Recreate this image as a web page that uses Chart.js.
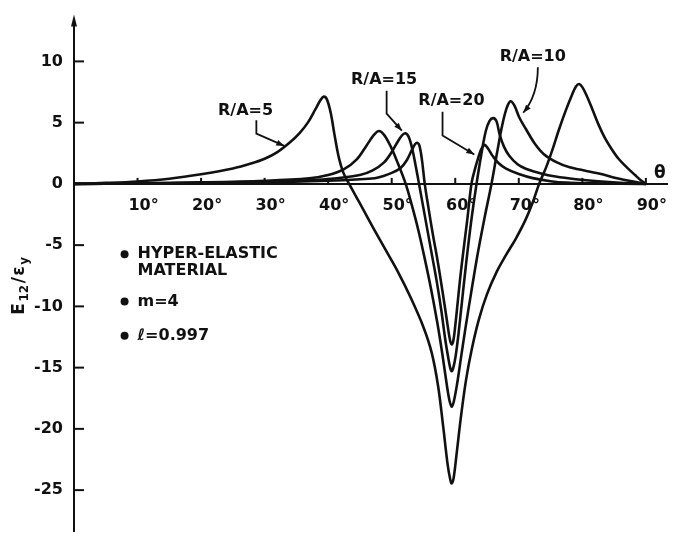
<!DOCTYPE html>
<html>
<head>
<meta charset="utf-8">
<script src="https://cdn.jsdelivr.net/npm/chart.js@4.4.0/dist/chart.umd.min.js"></script>
<style>
  html, body { margin: 0; padding: 0; background: #fff; overflow: hidden; }
  canvas { display: block; }
</style>
</head>
<body>
<canvas id="chart" width="673" height="552"></canvas>
<script>
// shear strain ratio E12/ey against angle theta (degrees)
const ra5Deg = [0, 5, 10, 15, 20, 25, 28, 30, 32, 34, 35.5, 36.8, 38, 38.8, 39.3, 39.8, 40.4, 41, 41.7, 42.4, 43.3, 45, 47, 49, 51, 53, 55, 56.3, 57.3, 58.1, 58.8, 59.2, 59.45, 59.75, 60.2, 60.9, 61.7, 62.6, 63.7, 65, 66.5, 68, 69.5, 71, 72.2, 73.2, 74.3, 75.3, 76.3, 77.4, 78.4, 79.0, 79.5, 80.0, 80.6, 81.5, 82.5, 83.5, 84.6, 85.7, 87, 88.3, 89.2, 90];
const ra5Val = [0, 0.08, 0.2, 0.42, 0.78, 1.25, 1.68, 2.05, 2.6, 3.4, 4.15, 5.0, 6.1, 6.85, 7.12, 6.9, 5.8, 4.0, 2.1, 0.9, 0, -1.6, -3.5, -5.35, -7.2, -9.3, -11.7, -13.8, -16.5, -19.8, -22.9, -24.1, -24.45, -24.0, -22.1, -19.0, -16.0, -13.5, -11.1, -9.0, -7.2, -5.8, -4.5, -3.0, -1.5, 0, 1.35, 2.8, 4.4, 6.0, 7.3, 7.95, 8.15, 7.9, 7.3, 6.2, 4.9, 3.8, 2.85, 2.05, 1.35, 0.72, 0.3, 0];

const ra10Deg = [0, 10, 20, 30, 37, 40, 42.5, 44.5, 46, 47.2, 48, 48.8, 49.8, 50.8, 52.2, 53.2, 54.2, 55.2, 56.2, 57.2, 58.0, 58.7, 59.1, 59.45, 59.8, 60.3, 60.9, 61.6, 62.5, 63.5, 64.6, 65.7, 66.6, 67.4, 68.1, 68.7, 69.3, 70.1, 71.1, 72.5, 74, 76, 78, 82.6, 86, 90];
const ra10Val = [0, 0.05, 0.12, 0.25, 0.45, 0.72, 1.2, 2.0, 3.1, 4.0, 4.32, 4.0, 3.1, 1.9, 0, -1.8, -3.8, -6.1, -8.6, -11.4, -14.0, -16.5, -17.7, -18.2, -17.7, -16.3, -14.2, -11.8, -8.9, -5.8, -2.8, 0, 2.6, 4.8, 6.2, 6.75, 6.4, 5.4, 4.5, 3.3, 2.4, 1.75, 1.35, 0.85, 0.4, 0];

const ra15Deg = [0, 10, 20, 30, 40, 45, 47, 48.8, 50, 50.9, 51.6, 52.15, 52.7, 53.3, 53.8, 54.3, 55, 55.7, 56.4, 57.1, 57.8, 58.4, 58.9, 59.2, 59.45, 59.7, 60.05, 60.5, 61.0, 61.5, 62.0, 62.6, 63.35, 64.1, 64.8, 65.4, 66.0, 66.5, 67.0, 67.7, 68.5, 69.8, 71.1, 73.5, 75.8, 79, 82.5, 86, 90];
const ra15Val = [0, 0.03, 0.08, 0.17, 0.4, 0.72, 1.1, 1.76, 2.6, 3.4, 3.95, 4.13, 3.8, 2.7, 1.4, 0, -2.0, -4.0, -6.0, -8.0, -10.3, -12.6, -14.2, -15.0, -15.3, -15.0, -14.1, -12.3, -9.9, -7.5, -5.2, -2.7, 0, 2.4, 4.3, 5.15, 5.37, 5.1, 4.0, 3.0, 2.3, 1.6, 1.24, 0.85, 0.6, 0.38, 0.21, 0.09, 0];

const ra20Deg = [0, 10, 20, 30, 40, 45, 47.7, 50, 51.4, 52.4, 53.2, 53.7, 54.0, 54.35, 54.75, 55.2, 55.8, 56.5, 57.1, 57.7, 58.3, 58.9, 59.2, 59.45, 59.7, 60.0, 60.4, 60.8, 61.3, 61.9, 62.55, 63.1, 63.6, 64.1, 64.6, 65.0, 65.5, 65.9, 66.8, 68.0, 70, 72.2, 75, 77.4, 82, 90];
const ra20Val = [0, 0.02, 0.05, 0.1, 0.25, 0.38, 0.5, 0.9, 1.3, 1.95, 2.8, 3.25, 3.36, 3.15, 2.0, 0, -2.0, -4.2, -5.9, -7.8, -9.8, -11.9, -12.8, -13.1, -12.8, -11.6, -9.6, -7.6, -5.4, -2.9, 0, 1.2, 2.1, 2.85, 3.18, 3.0, 2.6, 2.27, 1.7, 1.24, 0.8, 0.47, 0.22, 0.1, 0.04, 0];

const xTicks = [0, 10, 20, 30, 40, 50, 60, 70, 80, 90];
const yTicks = [-25, -20, -15, -10, -5, 0, 5, 10];
const seriesNames = ['R/A=5', 'R/A=10', 'R/A=15', 'R/A=20'];
const notes = ['HYPER-ELASTIC', 'MATERIAL', 'm=4', 'ℓ=0.997'];

const black = '#111';
const fam = '"DejaVu Sans", sans-serif';

// where the curve names and their leader lines sit, in axis units
const callouts = [
  { text: 'R/A=5', at: [27.0, 5.97], path: [[28.7, 5.19], [28.7, 4.11], [33.1, 3.1]] },
  { text: 'R/A=15', at: [48.8, 8.53], path: [[49.2, 7.6], [49.2, 5.74], [51.6, 4.34]] },
  { text: 'R/A=20', at: [59.4, 6.74], path: [[58.0, 5.89], [58.0, 3.95], [63.0, 2.4]] },
  { text: 'R/A=10', at: [72.2, 10.39], path: [[73.0, 9.53], [73.0, 8.06], [70.7, 5.81]], bend: true }
];

function toPoints(xs, ys) {
  return xs.map((d, i) => ({ x: d, y: ys[i] }));
}

function arrowHead(ctx, x0, y0, x1, y1) {
  const a = Math.atan2(y1 - y0, x1 - x0);
  ctx.beginPath();
  ctx.moveTo(x1, y1);
  ctx.lineTo(x1 - 8 * Math.cos(a) + 3 * Math.sin(a), y1 - 8 * Math.sin(a) - 3 * Math.cos(a));
  ctx.lineTo(x1 - 8 * Math.cos(a) - 3 * Math.sin(a), y1 - 8 * Math.sin(a) + 3 * Math.cos(a));
  ctx.closePath();
  ctx.fill();
}

const overlay = {
  id: 'overlay',
  afterDraw(chart) {
    const { ctx, chartArea } = chart;
    const sx = chart.scales.x, sy = chart.scales.y;
    const px = v => sx.getPixelForValue(v);
    const py = v => sy.getPixelForValue(v);
    ctx.save();
    ctx.strokeStyle = black;
    ctx.fillStyle = black;
    ctx.lineWidth = 2;

    // small ticks standing on the theta axis
    xTicks.forEach(v => {
      if (!v) return;
      ctx.beginPath();
      ctx.moveTo(px(v), py(0));
      ctx.lineTo(px(v), py(0) - 6);
      ctx.stroke();
    });
    // ticks pointing inwards from the vertical axis
    yTicks.forEach(v => {
      if (!v) return;
      ctx.beginPath();
      ctx.moveTo(chartArea.left, py(v));
      ctx.lineTo(chartArea.left + 10, py(v));
      ctx.stroke();
    });
    // arrow at the top of the vertical axis
    ctx.beginPath();
    ctx.moveTo(chartArea.left, chartArea.top - 6);
    ctx.lineTo(chartArea.left - 3, chartArea.top + 6);
    ctx.lineTo(chartArea.left + 3, chartArea.top + 6);
    ctx.closePath();
    ctx.fill();

    // theta
    ctx.font = 'bold 17px ' + fam;
    ctx.textAlign = 'center';
    ctx.textBaseline = 'middle';
    ctx.fillText('θ', px(92.2), py(0.85));

    // curve names with leaders
    ctx.font = 'bold 16px ' + fam;
    callouts.forEach(c => {
      ctx.fillText(c.text, px(c.at[0]), py(c.at[1]));
      const p = c.path.map(q => [px(q[0]), py(q[1])]);
      ctx.lineWidth = 1.8;
      ctx.beginPath();
      ctx.moveTo(p[0][0], p[0][1]);
      if (c.bend) {
        ctx.quadraticCurveTo(p[1][0], p[1][1] + 10, p[2][0], p[2][1]);
      } else {
        ctx.lineTo(p[1][0], p[1][1]);
        ctx.lineTo(p[2][0], p[2][1]);
      }
      ctx.stroke();
      const prev = c.bend ? [p[1][0], p[1][1] + 10] : p[1];
      arrowHead(ctx, prev[0], prev[1], p[2][0], p[2][1]);
    });

    // material notes
    ctx.textAlign = 'left';
    const rows = [[-5.74, true], [-7.13, false], [-9.61, true], [-12.4, true]];
    notes.forEach((t, i) => {
      const y = py(rows[i][0]);
      if (rows[i][1]) {
        ctx.beginPath();
        ctx.arc(px(7.96), y, 4, 0, Math.PI * 2);
        ctx.fill();
      }
      ctx.fillText(t, px(10.0), y);
    });

    // vertical axis title E12 / e y
    const parts = [['E', false], ['12', true], ['/', false], ['ε', false], ['y', true]];
    ctx.translate(24, 285);
    ctx.rotate(-Math.PI / 2);
    ctx.textBaseline = 'alphabetic';
    let w = 0;
    parts.forEach(([t, sub]) => {
      ctx.font = (sub ? 'bold 12px ' : 'bold 17px ') + fam;
      w += ctx.measureText(t).width + 1.5;
    });
    let cx = -w / 2;
    parts.forEach(([t, sub]) => {
      ctx.font = (sub ? 'bold 12px ' : 'bold 17px ') + fam;
      ctx.fillText(t, cx, sub ? 4 : 0);
      cx += ctx.measureText(t).width + 1.5;
    });
    ctx.restore();
  }
};

const tickFont = { family: 'DejaVu Sans', size: 16, weight: 'bold' };

new Chart(document.getElementById('chart'), {
  type: 'line',
  data: {
    datasets: [
      { label: seriesNames[0], data: toPoints(ra5Deg, ra5Val) },
      { label: seriesNames[1], data: toPoints(ra10Deg, ra10Val) },
      { label: seriesNames[2], data: toPoints(ra15Deg, ra15Val) },
      { label: seriesNames[3], data: toPoints(ra20Deg, ra20Val) }
    ]
  },
  options: {
    responsive: false,
    animation: false,
    devicePixelRatio: 1,
    layout: { padding: { top: 14, right: 0, bottom: 0, left: 0 } },
    plugins: { legend: { display: false }, tooltip: { enabled: false } },
    elements: {
      point: { radius: 0 },
      line: { borderWidth: 2.6, borderColor: black, tension: 0.35, fill: false }
    },
    scales: {
      x: {
        type: 'linear',
        min: 0,
        max: 93.45,
        position: { y: 0 },
        afterBuildTicks: s => { s.ticks = xTicks.map(v => ({ value: v })); },
        grid: { drawOnChartArea: false, drawTicks: false },
        border: { color: black, width: 2 },
        ticks: {
          color: black,
          font: tickFont,
          padding: 12,
          labelOffset: 6,
          maxRotation: 0,
          autoSkip: false,
          callback: v => (v === 0 ? '' : v + '°')
        }
      },
      y: {
        type: 'linear',
        min: -28.37,
        max: 13.33,
        afterFit: s => { s.width = 74; },
        afterBuildTicks: s => { s.ticks = yTicks.map(v => ({ value: v })); },
        grid: { drawOnChartArea: false, drawTicks: false },
        border: { color: black, width: 2 },
        ticks: { color: black, font: tickFont, padding: 11, callback: v => String(v) }
      }
    }
  },
  plugins: [overlay]
});
</script>
</body>
</html>
